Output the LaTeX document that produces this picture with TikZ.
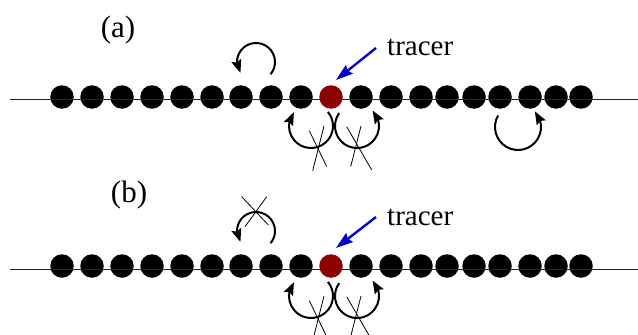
\documentclass[tikz,border=0pt]{standalone}
\usepackage{fontspec}
\setmainfont{Liberation Serif}
\usetikzlibrary{arrows.meta,bending}
\definecolor{tracerred}{RGB}{140,0,0}
\definecolor{arrowblue}{RGB}{0,0,200}
\begin{document}
\begin{tikzpicture}[x=1bp,y=1bp,
  ball/.style={circle,fill=black,minimum size=23.5bp,inner sep=0pt},
  tracerball/.style={ball,fill=tracerred},
  axis/.style={line width=0.9bp,black!85},
  hop/.style={line width=2bp,-{Stealth[length=13bp,width=10bp,inset=2bp,flex]}},
  veto/.style={line width=0.8bp},
  pointer/.style={line width=2.4bp,arrowblue,-{Stealth[length=17bp,width=11bp,inset=2bp]}},
  lbl/.style={font=\fontsize{29bp}{32bp}\selectfont,inner sep=0pt},
  plbl/.style={font=\fontsize{31bp}{34bp}\selectfont,inner sep=0pt}]
\useasboundingbox (0,0) rectangle (638,334);

% ---------------- panel (a) ----------------
\foreach \x [count=\i] in {62,92,122,152,182,212,241,271,301,331,361,391,421,447,474,500,530,556,581}{
  \ifnum\i=10
    \node[tracerball] (a\i) at (\x,237) {};
  \else
    \node[ball] (a\i) at (\x,237) {};
  \fi
}
\coordinate (aL) at (10,235);
\coordinate (aR) at (638,235);
\draw[axis] (aL) -- (aR);

\node[plbl] (labela) at (118,304) {(a)};
\node[lbl,anchor=base west] (tracera) at (387,279) {tracer};
\coordinate (pa0) at (376,286);
\coordinate (pa1) at (336,254);
\draw[pointer] (pa0) -- (pa1);

% hops
\draw[hop] (270.55,259.79) arc[start angle=-40, end angle=215, radius=19];
\draw[hop] (327.85,222.14) arc[start angle=40, end angle=-219, radius=22];
\draw[hop] (339.2,220.9) arc[start angle=144, end angle=405, radius=22];
\draw[hop] (498.08,218.5) arc[start angle=150, end angle=403, radius=23];
% vetoes
\draw[veto] (309.3,203.3) -- (326.7,167.3);
\draw[veto] (324,208) -- (312.7,163.3);
\draw[veto] (346.7,207.3) -- (371.7,164);
\draw[veto] (361,208) -- (350.7,167.5);

% ---------------- panel (b) ----------------
\foreach \x [count=\i] in {62,92,122,152,182,212,241,271,301,331,361,391,421,447,474,500,530,556,581}{
  \ifnum\i=10
    \node[tracerball] (b\i) at (\x,68) {};
  \else
    \node[ball] (b\i) at (\x,68) {};
  \fi
}
\coordinate (bL) at (10,65);
\coordinate (bR) at (638,65);
\draw[axis] (bL) -- (bR);

\node[plbl] (labelb) at (129,139) {(b)};
\node[lbl,anchor=base west] (tracerb) at (387,109) {tracer};
\coordinate (pb0) at (376,117);
\coordinate (pb1) at (336,86);
\draw[pointer] (pb0) -- (pb1);

% hops
\draw[hop] (270.55,90.79) arc[start angle=-40, end angle=215, radius=19];
\draw[hop] (327.85,52.14) arc[start angle=40, end angle=-219, radius=22];
\draw[hop] (339.2,50.9) arc[start angle=144, end angle=405, radius=22];
% vetoes
\draw[veto] (241.7,137.3) -- (268.3,109);
\draw[veto] (266.7,137.3) -- (245,107.3);
\draw[veto] (309.3,33.3) -- (326.7,-2.7);
\draw[veto] (324,38) -- (312.7,-6.7);
\draw[veto] (346.7,37.3) -- (371.7,-6);
\draw[veto] (361,38) -- (350.7,-2.5);
\end{tikzpicture}
\end{document}
